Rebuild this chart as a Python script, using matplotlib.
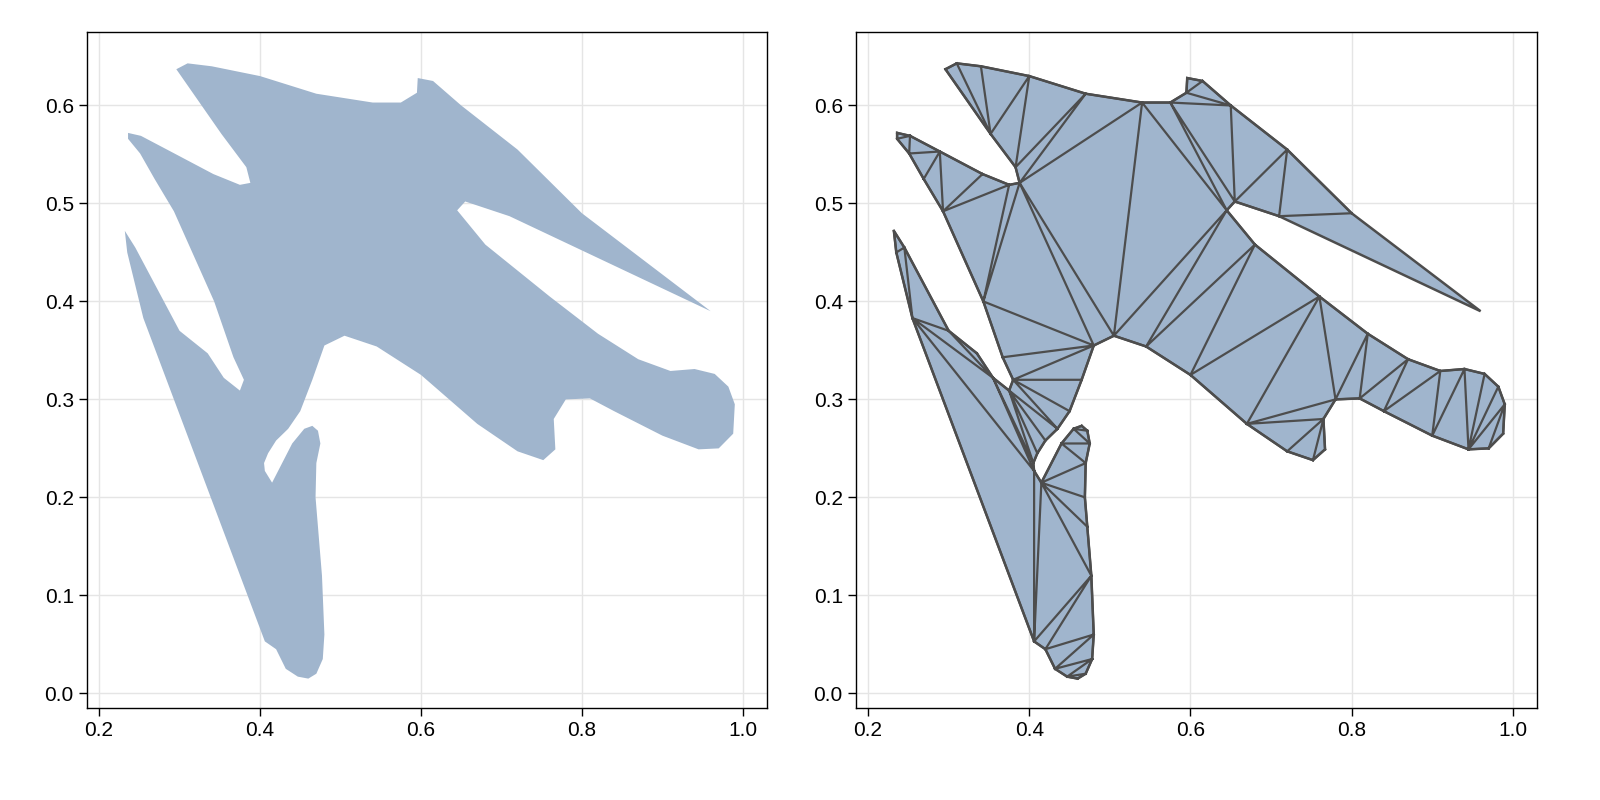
import matplotlib
matplotlib.use("Agg")
import matplotlib.pyplot as plt
import matplotlib.tri as mtri
from matplotlib.path import Path
import numpy as np

xs = [0.296,0.31,0.34,0.40,0.47,0.54,0.575,0.595,0.596,0.615,0.65,0.72,0.80,0.96,
      0.71,0.655,0.645,0.68,0.76,0.82,0.87,0.91,0.94,0.965,0.982,0.99,0.988,0.97,0.945,
      0.90,0.84,0.81,0.78,0.765,0.767,0.752,0.72,0.67,0.60,0.545,0.505,0.48,0.465,0.45,
      0.435,0.42,0.41,0.405,0.406,0.415,0.44,0.455,0.465,0.472,0.475,0.47,0.469,0.472,
      0.477,0.48,0.478,0.47,0.46,0.447,0.432,0.42,0.406,0.255,0.235,0.232,0.245,0.30,
      0.335,0.355,0.375,0.38,0.367,0.343,0.293,0.269,0.251,0.236,0.236,0.252,0.289,
      0.342,0.375,0.388,0.383,0.352]
ys = [0.637,0.643,0.640,0.630,0.612,0.603,0.603,0.613,0.628,0.625,0.600,0.555,0.490,0.390,
      0.487,0.502,0.493,0.458,0.405,0.367,0.341,0.329,0.331,0.326,0.313,0.295,0.265,0.250,0.249,
      0.263,0.288,0.301,0.300,0.280,0.249,0.238,0.247,0.275,0.325,0.354,0.365,0.355,0.320,0.288,
      0.270,0.258,0.245,0.235,0.227,0.215,0.255,0.270,0.273,0.268,0.255,0.235,0.200,0.170,
      0.120,0.060,0.035,0.020,0.015,0.017,0.025,0.045,0.053,0.383,0.450,0.472,0.455,0.370,
      0.347,0.322,0.309,0.320,0.343,0.400,0.492,0.525,0.551,0.566,0.572,0.569,0.553,
      0.530,0.519,0.521,0.537,0.571]
xticks = [0.2,0.4,0.6,0.8,1.0]
yticks = [0.0,0.1,0.2,0.3,0.4,0.5,0.6]

plt.rcParams['font.family'] = ['Liberation Sans', 'DejaVu Sans']
FILL = '#a0b5cd'
EDGE = '#4d4d4d'

pts = np.column_stack([xs, ys])
poly = Path(np.vstack([pts, pts[:1]]), closed=True)
tr = mtri.Triangulation(pts[:, 0], pts[:, 1])
mask = []
for t in tr.triangles:
    P = pts[t]
    tests = [P.mean(axis=0)]
    for a in range(3):
        for f in (0.25, 0.5, 0.75):
            tests.append(P[a] * (1 - f) + P[(a + 1) % 3] * f)
    inside = poly.contains_points(np.array(tests), radius=-1e-9)
    mask.append(not inside.all())
tr.set_mask(mask)

fig = plt.figure(figsize=(16, 8), dpi=100)
ax1 = fig.add_axes([87/1600, 92/800, 680/1600, 676/800])
ax2 = fig.add_axes([856/1600, 92/800, 681/1600, 676/800])
for ax in (ax1, ax2):
    ax.set_xlim(0.185, 1.03)
    ax.set_ylim(-0.015, 0.675)
    ax.set_xticks(xticks)
    ax.set_yticks(yticks)
    ax.set_xticklabels([f"{v:.1f}" for v in xticks])
    ax.set_yticklabels([f"{v:.1f}" for v in yticks])
    ax.grid(True, color='#e5e5e5', lw=1)
    ax.set_axisbelow(True)
    ax.tick_params(labelsize=15, length=6, width=1)
    for s in ax.spines.values():
        s.set_linewidth(1)

ax1.fill(xs, ys, color=FILL, lw=0)
ax2.fill(xs, ys, facecolor=FILL, edgecolor=EDGE, lw=1.8)
ax2.triplot(tr, color=EDGE, lw=1.6)

fig.savefig("out.png", dpi=100)
